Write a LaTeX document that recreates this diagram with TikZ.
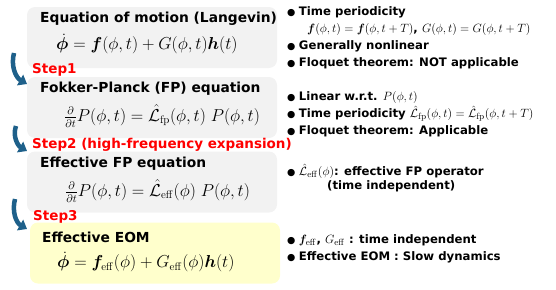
\documentclass[tikz,border=0pt]{standalone}
\usepackage{amsmath}
\usepackage{bm}
\usepackage[no-math]{fontspec}
\setmainfont{DejaVu Sans}
\newfontfamily\bulfont{DejaVu Sans}
\usepackage{tikz}
\usetikzlibrary{arrows.meta, positioning, calc}
\definecolor{box_gray}{RGB}{242, 242, 242}
\definecolor{box_yellow}{RGB}{255, 255, 204}
\definecolor{step_red}{RGB}{255, 0, 0}
\definecolor{arrow_blue}{RGB}{30, 96, 138}
\newcommand{\bul}{{\bulfont\fontsize{9.5}{10}\selectfont ●}\hspace{3.5pt}}
\newcommand{\im}[1]{{\fontsize{13}{14}\selectfont$#1$}}

\begin{document}
\begin{tikzpicture}[
        x=1pt, y=-1pt,
        every node/.style={inner sep=0pt, font=\bfseries},
        eqbox/.style={rounded corners=8pt, fill=box_gray, minimum width=250pt, minimum height=61pt},
        boxtitle/.style={anchor=west, font=\bfseries\fontsize{13.8}{17}\selectfont},
        boxmath/.style={anchor=west, font=\fontsize{16.1}{18}\selectfont},
        steplabel/.style={anchor=west, text=step_red, font=\bfseries\fontsize{13.5}{16}\selectfont},
        item/.style={anchor=west, font=\bfseries\fontsize{11.7}{14}\selectfont},
        flowarrow/.style={arrow_blue, line width=4.5pt, -{Triangle[width=12pt, length=8pt]}}
    ]
        \useasboundingbox (0, 0) rectangle (556, 289);

        % -------- Riquadri --------
        \node[eqbox] (lang) at (152, 37.5) {};
        \node[eqbox] (fp) at (152, 107.5) {};
        \node[eqbox] (efffp) at (152, 182) {};
        \node[eqbox, fill=box_yellow] (effeom) at (155, 253) {};

        % Langevin
        \node[boxtitle] (lang_t) at (40, 19) {Equation of motion (Langevin)};
        \node[boxmath] (lang_m) at (56, 44) {$\dot{\bm\phi} = \bm f(\phi,t) + G(\phi,t)\bm h(t)$};

        % Fokker-Planck
        \node[boxtitle] (fp_t) at (40, 89) {Fokker-Planck (FP) equation};
        \node[boxmath] (fp_m) at (64, 116) {$\tfrac{\partial}{\partial t}P(\phi,t) = \hat{\mathcal L}_{\mathrm{fp}}(\phi,t)\;P(\phi,t)$};

        % FP efficace
        \node[boxtitle] (efffp_t) at (40, 164) {Effective FP equation};
        \node[boxmath] (efffp_m) at (65, 191) {$\tfrac{\partial}{\partial t}P(\phi,t) = \hat{\mathcal L}_{\mathrm{eff}}(\phi)\;P(\phi,t)$};

        % EOM efficace
        \node[boxtitle] (effeom_t) at (42, 237) {Effective EOM};
        \node[boxmath] (effeom_m) at (57, 262) {$\dot{\bm\phi} = \bm f_{\mathrm{eff}}(\phi) + G_{\mathrm{eff}}(\phi)\bm h(t)$};

        % -------- Passi --------
        \node[steplabel] (s1) at (32, 70) {Step1};
        \node[steplabel] (s2) at (32, 145) {Step2 (high-frequency expansion)};
        \node[steplabel] (s3) at (33, 217) {Step3};

        \coordinate (a1s) at (14, 53);
        \coordinate (a1e) at (27, 84);
        \coordinate (a2s) at (16, 126);
        \coordinate (a2e) at (27, 151);
        \coordinate (a3s) at (15, 199);
        \coordinate (a3e) at (27, 229);
        \draw[flowarrow] (a1s) to[out=-105, in=150] (a1e);
        \draw[flowarrow] (a2s) to[out=-110, in=150] (a2e);
        \draw[flowarrow] (a3s) to[out=-105, in=150] (a3e);

        % -------- Proprieta (elenchi) --------
        \node[item] (p1a) at (287, 12) {\bul Time periodicity};
        \node[item] (p1b) at (307, 29) {\im{\bm f(\phi,t)=\bm f(\phi,t+T)}, \im{G(\phi,t)=G(\phi,t+T)}};
        \node[item] (p1c) at (287, 46) {\bul Generally nonlinear};
        \node[item] (p1d) at (287, 63) {\bul Floquet theorem: NOT applicable};

        \node[item] (p2a) at (287, 97) {\bul Linear w.r.t. \im{P(\phi,t)}};
        \node[item] (p2b) at (287, 114) {\bul Time periodicity \im{\hat{\mathcal L}_{\mathrm{fp}}(\phi,t)=\hat{\mathcal L}_{\mathrm{fp}}(\phi,t+T)}};
        \node[item] (p2c) at (287, 131) {\bul Floquet theorem: Applicable};

        \node[item] (p3a) at (287, 171) {\bul \im{\hat{\mathcal L}_{\mathrm{eff}}(\phi)}: effective FP operator};
        \node[item] (p3b) at (327, 186) {(time independent)};

        \node[item] (p4a) at (287, 240) {\bul \im{\bm f_{\mathrm{eff}}}, \im{G_{\mathrm{eff}}} : time independent};
        \node[item] (p4b) at (287, 257) {\bul Effective EOM : Slow dynamics};

    \end{tikzpicture}
\end{document}
